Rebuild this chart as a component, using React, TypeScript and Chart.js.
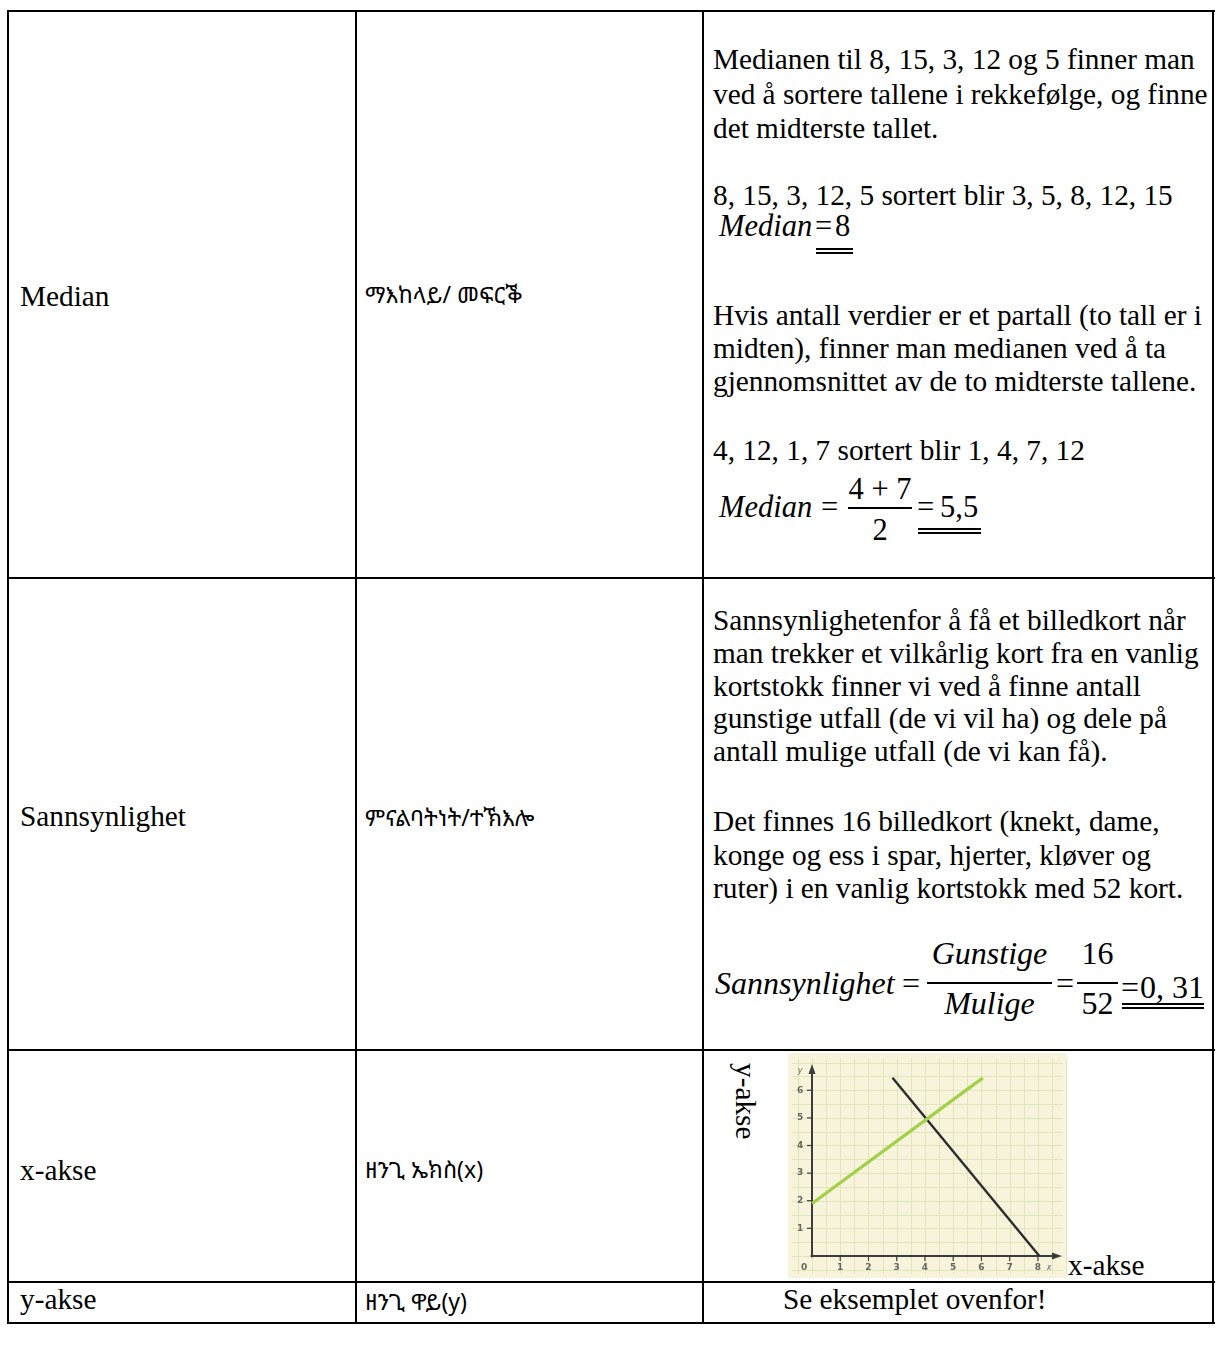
import React, { useEffect, useRef } from "react";
import { Chart, registerables } from "chart.js";

Chart.register(...registerables);

// ---- chart data ----
const greenLineX = [0, 6.05];
const greenLineY = [1.9, 6.45];
const blackLineX = [2.85, 8.05];
const blackLineY = [6.45, 0];
const xTickValues = [1, 2, 3, 4, 5, 6, 7, 8];
const xTickLabels = ["1", "2", "3", "4", "5", "6", "7", "8"];
const yTickValues = [1, 2, 3, 4, 5, 6];
const yTickLabels = ["1", "2", "3", "4", "5", "6"];
const originLabel = "0";
const xAxisName = "x";
const yAxisName = "y";
const xRange = [-0.85, 9.03];
const yRange = [-0.8, 7.35];

const SERIF = '"Liberation Serif", "Times New Roman", Times, serif';
const ETH = '"Noto Sans Ethiopic", "Abyssinica SIL", "DejaVu Sans", "Noto Sans", sans-serif';
const FS = 29.3;

const paperPlugin = {
  id: "paper",
  beforeDatasetsDraw(chart: any) {
    const { ctx, chartArea, scales } = chart;
    const { left, right, top, bottom } = chartArea;
    const xs = scales.x;
    const ys = scales.y;
    ctx.save();
    ctx.fillStyle = "#f8f4dc";
    ctx.fillRect(left, top, right - left, bottom - top);
    ctx.strokeStyle = "#e0e5bc";
    ctx.lineWidth = 1;
    for (let v = -0.5; v <= xs.max; v += 0.5) {
      const px = Math.round(xs.getPixelForValue(v)) + 0.5;
      ctx.beginPath();
      ctx.moveTo(px, top + 6);
      ctx.lineTo(px, bottom - 4);
      ctx.stroke();
    }
    for (let v = -0.5; v <= ys.max; v += 0.5) {
      const py = Math.round(ys.getPixelForValue(v)) + 0.5;
      ctx.beginPath();
      ctx.moveTo(left + 4, py);
      ctx.lineTo(right - 4, py);
      ctx.stroke();
    }
    const x0 = xs.getPixelForValue(0);
    const y0 = ys.getPixelForValue(0);
    ctx.strokeStyle = "#3c3c3c";
    ctx.fillStyle = "#3c3c3c";
    ctx.lineWidth = 2;
    // x axis
    const xEnd = xs.getPixelForValue(8.85);
    ctx.beginPath();
    ctx.moveTo(xs.getPixelForValue(-0.05), y0);
    ctx.lineTo(xEnd - 6, y0);
    ctx.stroke();
    ctx.beginPath();
    ctx.moveTo(xEnd, y0);
    ctx.lineTo(xEnd - 10, y0 - 3.5);
    ctx.lineTo(xEnd - 10, y0 + 3.5);
    ctx.closePath();
    ctx.fill();
    // y axis
    const yEnd = ys.getPixelForValue(6.95);
    ctx.beginPath();
    ctx.moveTo(x0, ys.getPixelForValue(-0.05));
    ctx.lineTo(x0, yEnd + 6);
    ctx.stroke();
    ctx.beginPath();
    ctx.moveTo(x0, yEnd);
    ctx.lineTo(x0 - 3.5, yEnd + 10);
    ctx.lineTo(x0 + 3.5, yEnd + 10);
    ctx.closePath();
    ctx.fill();
    // ticks
    ctx.lineWidth = 1.2;
    xTickValues.forEach((v) => {
      const px = xs.getPixelForValue(v);
      ctx.beginPath();
      ctx.moveTo(px, y0);
      ctx.lineTo(px, y0 + 5);
      ctx.stroke();
    });
    yTickValues.forEach((v) => {
      const py = ys.getPixelForValue(v);
      ctx.beginPath();
      ctx.moveTo(x0, py);
      ctx.lineTo(x0 - 5, py);
      ctx.stroke();
    });
    // labels
    ctx.fillStyle = "#66665e";
    ctx.font = "bold 9px 'DejaVu Sans', sans-serif";
    ctx.textAlign = "center";
    ctx.textBaseline = "middle";
    const labY = ys.getPixelForValue(-0.43);
    xTickValues.forEach((v, i) => {
      ctx.fillText(xTickLabels[i], xs.getPixelForValue(v), labY);
    });
    ctx.fillText(originLabel, xs.getPixelForValue(-0.28), labY);
    ctx.font = "italic 8px 'DejaVu Sans', sans-serif";
    ctx.fillText(xAxisName, xs.getPixelForValue(8.4), labY);
    ctx.font = "bold 9px 'DejaVu Sans', sans-serif";
    const labX = xs.getPixelForValue(-0.42);
    yTickValues.forEach((v, i) => {
      ctx.fillText(yTickLabels[i], labX, ys.getPixelForValue(v));
    });
    ctx.font = "italic 8px 'DejaVu Sans', sans-serif";
    ctx.fillText(yAxisName, labX, ys.getPixelForValue(6.7));
    ctx.restore();
  },
};

function SmallGraph() {
  const ref = useRef<HTMLCanvasElement | null>(null);
  useEffect(() => {
    if (!ref.current) return;
    const chart = new Chart(ref.current, {
      type: "scatter",
      data: {
        datasets: [
          {
            data: greenLineX.map((x, i) => ({ x, y: greenLineY[i] })),
            showLine: true,
            borderColor: "#a3d04a",
            borderWidth: 3.2,
            pointRadius: 0,
          },
          {
            data: blackLineX.map((x, i) => ({ x, y: blackLineY[i] })),
            showLine: true,
            borderColor: "#2c2c2c",
            borderWidth: 2.4,
            pointRadius: 0,
          },
        ],
      },
      options: {
        animation: false,
        responsive: false,
        maintainAspectRatio: false,
        devicePixelRatio: 1,
        layout: { padding: 0 },
        plugins: { legend: { display: false }, tooltip: { enabled: false } },
        scales: {
          x: { type: "linear", min: xRange[0], max: xRange[1], display: false },
          y: { type: "linear", min: yRange[0], max: yRange[1], display: false },
        },
      },
      plugins: [paperPlugin],
    });
    return () => chart.destroy();
  }, []);
  return (
    <canvas
      ref={ref}
      width={279}
      height={225}
      style={{ position: "absolute", left: 788, top: 1053, width: 279, height: 225 }}
    />
  );
}

// Text placed by baseline
function T({ x, base, size = FS, italic = false, font = SERIF, children, w, align }: any) {
  const top = base - 0.8375 * size;
  return (
    <div
      style={{
        position: "absolute",
        left: x,
        top,
        width: w,
        textAlign: align,
        fontFamily: font,
        fontSize: size,
        lineHeight: `${size}px`,
        fontStyle: italic ? "italic" : "normal",
        whiteSpace: "nowrap",
        color: "#000",
      }}
    >
      {children}
    </div>
  );
}

function HLine({ x1, x2, y, h = 2 }: any) {
  return <div style={{ position: "absolute", left: x1, top: y, width: x2 - x1, height: h, background: "#000" }} />;
}
function VLine({ x, y1, y2, w = 2 }: any) {
  return <div style={{ position: "absolute", left: x, top: y1, width: w, height: y2 - y1, background: "#000" }} />;
}

const row1Lines: [string, number][] = [
  ["Medianen til 8, 15, 3, 12 og 5 finner man", 70],
  ["ved å sortere tallene i rekkefølge, og finne", 105],
  ["det midterste tallet.", 139],
  ["8, 15, 3, 12, 5 sortert blir 3, 5, 8, 12, 15", 206],
  ["Hvis antall verdier er et partall (to tall er i", 326],
  ["midten), finner man medianen ved å ta", 359],
  ["gjennomsnittet av de to midterste tallene.", 392],
  ["4, 12, 1, 7 sortert blir 1, 4, 7, 12", 461],
];
const row2Lines: [string, number][] = [
  ["Sannsynlighetenfor å få et billedkort når", 631],
  ["man trekker et vilkårlig kort fra en vanlig", 664],
  ["kortstokk finner vi ved å finne antall", 697],
  ["gunstige utfall (de vi vil ha) og dele på", 729],
  ["antall mulige utfall (de vi kan få).", 762],
  ["Det finnes 16 billedkort (knekt, dame,", 832],
  ["konge og ess i spar, hjerter, kløver og", 866],
  ["ruter) i en vanlig kortstokk med 52 kort.", 899],
];

export default function App() {
  return (
    <div style={{ position: "absolute", left: 0, top: 0, width: 1219, height: 1360, background: "#fff" }}>
      {/* table grid */}
      <HLine x1={7} x2={1215} y={10} />
      <HLine x1={7} x2={1215} y={577} />
      <HLine x1={7} x2={1215} y={1049} />
      <HLine x1={7} x2={1215} y={1281} />
      <HLine x1={7} x2={1215} y={1322} />
      <VLine x={7} y1={10} y2={1324} />
      <VLine x={355} y1={10} y2={1324} />
      <VLine x={702} y1={10} y2={1324} />
      <VLine x={1212} y1={10} y2={1324} />

      {/* column 1 */}
      <T x={20} base={307}>Median</T>
      <T x={20} base={827}>Sannsynlighet</T>
      <T x={20} base={1181}>x-akse</T>
      <T x={20} base={1310}>y-akse</T>

      {/* column 2 */}
      <T x={365} base={302} size={23} font={ETH}>ማእከላይ/ መፍርቕ</T>
      <T x={365} base={825} size={23} font={ETH}>ምናልባትነት/ተኽእሎ</T>
      <T x={365} base={1177} size={23} font={ETH}>ዘንጊ ኤክስ(x)</T>
      <T x={365} base={1309} size={23} font={ETH}>ዘንጊ ዋይ(y)</T>

      {/* column 3, row 1 */}
      {row1Lines.map(([s, b], i) => (
        <T key={"r1" + i} x={713} base={b}>{s}</T>
      ))}
      <T x={719} base={237} size={30.5} italic>Median</T>
      <T x={815} base={237} size={30.5}>=</T>
      <T x={835} base={237} size={30.5}>8</T>
      <HLine x1={816} x2={853} y={248} h={1.6} />
      <HLine x1={816} x2={853} y={252} h={1.6} />

      <T x={719} base={518} size={30.5} italic>Median</T>
      <T x={821} base={518} size={30.5}>=</T>
      <T x={848} base={500} size={30.5} w={64} align="center">4 + 7</T>
      <HLine x1={848} x2={912} y={507} h={1.5} />
      <T x={848} base={541} size={30.5} w={64} align="center">2</T>
      <T x={917} base={518} size={30.5}>=</T>
      <T x={940} base={518} size={30.5}>5,5</T>
      <HLine x1={918} x2={981} y={528} h={1.6} />
      <HLine x1={918} x2={981} y={532} h={1.6} />

      {/* column 3, row 2 */}
      {row2Lines.map(([s, b], i) => (
        <T key={"r2" + i} x={713} base={b}>{s}</T>
      ))}
      <T x={715} base={994} size={32} italic>Sannsynlighet</T>
      <T x={902} base={994} size={32}>=</T>
      <T x={927} base={964} size={32} italic w={125} align="center">Gunstige</T>
      <HLine x1={927} x2={1052} y={982} h={1.5} />
      <T x={927} base={1014} size={32} italic w={125} align="center">Mulige</T>
      <T x={1056} base={994} size={32}>=</T>
      <T x={1077} base={964} size={32} w={41} align="center">16</T>
      <HLine x1={1077} x2={1118} y={982} h={1.5} />
      <T x={1077} base={1014} size={32} w={41} align="center">52</T>
      <T x={1121} base={998} size={32}>=</T>
      <T x={1140} base={998} size={32}>0, 31</T>
      <HLine x1={1122} x2={1204} y={1003} h={1.6} />
      <HLine x1={1122} x2={1204} y={1007} h={1.6} />

      {/* column 3, row 3 */}
      <div
        style={{
          position: "absolute",
          left: 731,
          top: 1063,
          writingMode: "vertical-rl",
          fontFamily: SERIF,
          fontSize: FS,
          lineHeight: `${FS}px`,
          whiteSpace: "nowrap",
        }}
      >
        y-akse
      </div>
      <SmallGraph />
      <T x={1068} base={1276}>x-akse</T>

      {/* column 3, row 4 */}
      <T x={783} base={1310}>Se eksemplet ovenfor!</T>
    </div>
  );
}
